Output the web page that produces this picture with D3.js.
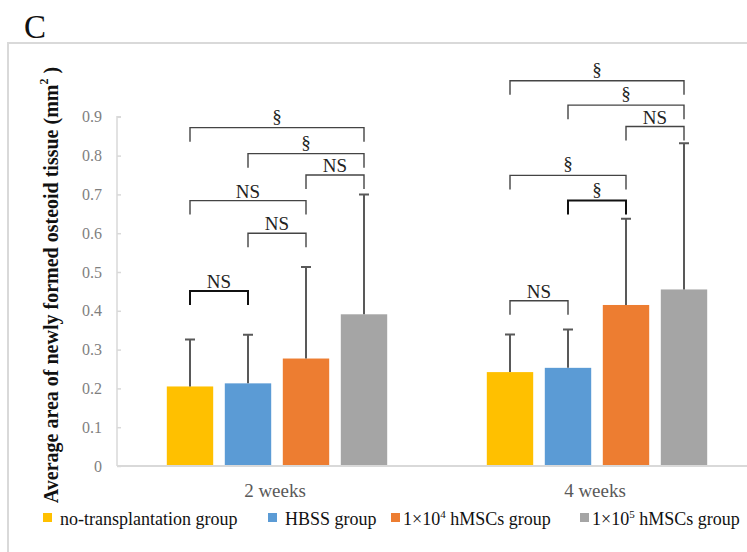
<!DOCTYPE html>
<html>
<head>
<meta charset="utf-8">
<script src="https://cdn.jsdelivr.net/npm/d3@7"></script>
<style>
  body { margin: 0; background: #fff; }
</style>
</head>
<body>
<svg width="747" height="552"></svg>
<script>
// данные
const weeks = ["2 weeks", "4 weeks"];
const groups = ["no-transplantation group", "HBSS group", "1×10^4 hMSCs group", "1×10^5 hMSCs group"];
const colors = ["#FFC000", "#5B9BD5", "#ED7D31", "#A5A5A5"];
const means2w = [0.205, 0.213, 0.277, 0.391];
const means4w = [0.242, 0.253, 0.415, 0.455];
const errTop2w = [0.326, 0.338, 0.513, 0.700];
const errTop4w = [0.339, 0.352, 0.637, 0.832];
const yTicks = [0, 0.1, 0.2, 0.3, 0.4, 0.5, 0.6, 0.7, 0.8, 0.9];
// скобки значимости: неделя, от столбца, до столбца, уровень, подпись
const brackets = [
  {w: 0, a: 0, b: 1, y: 0.451, label: "NS", dark: true},
  {w: 0, a: 1, b: 2, y: 0.600, label: "NS"},
  {w: 0, a: 0, b: 2, y: 0.684, label: "NS"},
  {w: 0, a: 2, b: 3, y: 0.750, label: "NS"},
  {w: 0, a: 1, b: 3, y: 0.805, label: "§"},
  {w: 0, a: 0, b: 3, y: 0.872, label: "§"},
  {w: 1, a: 0, b: 1, y: 0.426, label: "NS"},
  {w: 1, a: 1, b: 2, y: 0.684, label: "§", dark: true},
  {w: 1, a: 0, b: 2, y: 0.749, label: "§"},
  {w: 1, a: 2, b: 3, y: 0.875, label: "NS"},
  {w: 1, a: 1, b: 3, y: 0.930, label: "§"},
  {w: 1, a: 0, b: 3, y: 0.993, label: "§"}
];

const means = [means2w, means4w];
const errTop = [errTop2w, errTop4w];
const FONT = '"Liberation Serif"';

const svg = d3.select("svg").style("font-family", FONT);

// рамка
svg.append("path")
  .attr("d", "M8,552 V43 H747")
  .attr("fill", "none")
  .attr("stroke", "#d9d9d9")
  .attr("stroke-width", 2);

// буква панели
svg.append("text")
  .attr("x", 24).attr("y", 38)
  .attr("font-size", 33)
  .attr("fill", "#111")
  .style("font-family", FONT)
  .text("C");

const left = 117, right = 757, bottom = 466;
const y = d3.scaleLinear().domain([0, 1]).range([bottom, bottom - 388]);
const x0 = d3.scaleBand().domain(weeks).range([left, right]);
const x1 = d3.scaleBand().domain(d3.range(groups.length))
  .range([-116, 116]).paddingInner(0.2).paddingOuter(0.1);

const cx = (w, i) => x0(weeks[w]) + x0.bandwidth() / 2 + x1(i) + x1.bandwidth() / 2;

// ось Y
const yAxis = d3.axisRight(y).tickValues(yTicks).tickSize(4).tickFormat(d => d === 0 ? "0" : d3.format(".1f")(d));
const gy = svg.append("g").attr("transform", `translate(${left},0)`).call(yAxis);
gy.attr("font-family", null);
gy.select(".domain").attr("d", `M4,${y(0.9)} H0 V${y(0)}`).attr("stroke", "#d9d9d9").attr("stroke-width", 1.5).attr("fill", "none");
gy.selectAll(".tick line").attr("stroke", "#d9d9d9").attr("stroke-width", 1.5);
gy.selectAll(".tick text")
  .attr("x", -15).attr("text-anchor", "end")
  .attr("font-size", 16).attr("fill", "#7f7f7f")
  .style("font-family", FONT);

// столбцы
const gBars = svg.append("g");
weeks.forEach((wk, w) => {
  const g = gBars.append("g").attr("transform", `translate(${x0(wk) + x0.bandwidth() / 2},0)`);
  g.selectAll("rect").data(means[w]).join("rect")
    .attr("x", (d, i) => x1(i))
    .attr("width", x1.bandwidth())
    .attr("y", d => y(d))
    .attr("height", d => y(0) - y(d))
    .attr("fill", (d, i) => colors[i]);
});

// ось X
svg.append("line")
  .attr("x1", left).attr("x2", right)
  .attr("y1", y(0)).attr("y2", y(0))
  .attr("stroke", "#d9d9d9").attr("stroke-width", 2);

// планки погрешностей (только вверх)
weeks.forEach((wk, w) => {
  means[w].forEach((m, i) => {
    const xc = cx(w, i);
    svg.append("path")
      .attr("d", `M${xc},${y(m)} V${y(errTop[w][i])} M${xc - 5},${y(errTop[w][i])} H${xc + 5}`)
      .attr("stroke", "#595959").attr("stroke-width", 2).attr("fill", "none");
  });
});

// скобки
brackets.forEach(b => {
  const xa = cx(b.w, b.a), xb = cx(b.w, b.b), yb = y(b.y);
  svg.append("path")
    .attr("d", `M${xa},${yb + 14} V${yb} H${xb} V${yb + 14}`)
    .attr("fill", "none")
    .attr("stroke", b.dark ? "#111" : "#444")
    .attr("stroke-width", b.dark ? 2 : 1.4);
  svg.append("text")
    .attr("x", (xa + xb) / 2)
    .attr("y", yb - (b.label === "NS" ? 3 : 5))
    .attr("text-anchor", "middle")
    .attr("font-size", 19)
    .attr("fill", "#222")
    .style("font-family", FONT)
    .text(b.label);
});

// подписи по оси X
svg.selectAll(".xlab").data(weeks).join("text")
  .attr("class", "xlab")
  .attr("x", d => x0(d) + x0.bandwidth() / 2 - 2)
  .attr("y", 497)
  .attr("text-anchor", "middle")
  .attr("font-size", 19)
  .attr("fill", "#595959")
  .style("font-family", FONT)
  .text(d => d);

// подпись оси Y
const yt = svg.append("text")
  .attr("transform", "translate(58,285) rotate(-90)")
  .attr("text-anchor", "middle")
  .attr("font-size", 20)
  .attr("font-weight", "bold")
  .attr("fill", "#111")
  .style("font-family", FONT);
yt.append("tspan").text("Average area of newly formed osteoid tissue (mm");
yt.append("tspan").attr("dy", -10).attr("font-size", 12).text("2");
yt.append("tspan").attr("dy", 10).text(" )");

// легенда
const legendX = [43, 268, 391, 580];
const lg = svg.append("g");
groups.forEach((name, i) => {
  const g = lg.append("g").attr("transform", `translate(${legendX[i]},0)`);
  g.append("rect").attr("x", 0).attr("y", 513).attr("width", 9).attr("height", 9).attr("fill", colors[i]);
  const t = g.append("text").attr("x", i < 2 ? 17 : 12).attr("y", 525)
    .attr("font-size", 18).attr("fill", "#111").style("font-family", FONT);
  const parts = name.split("^");
  if (parts.length === 1) {
    t.text(name);
  } else {
    t.append("tspan").text(parts[0]);
    t.append("tspan").attr("dy", -7).attr("font-size", 11).text(parts[1][0]);
    t.append("tspan").attr("dy", 7).text(parts[1].slice(1));
  }
});
</script>
</body>
</html>
